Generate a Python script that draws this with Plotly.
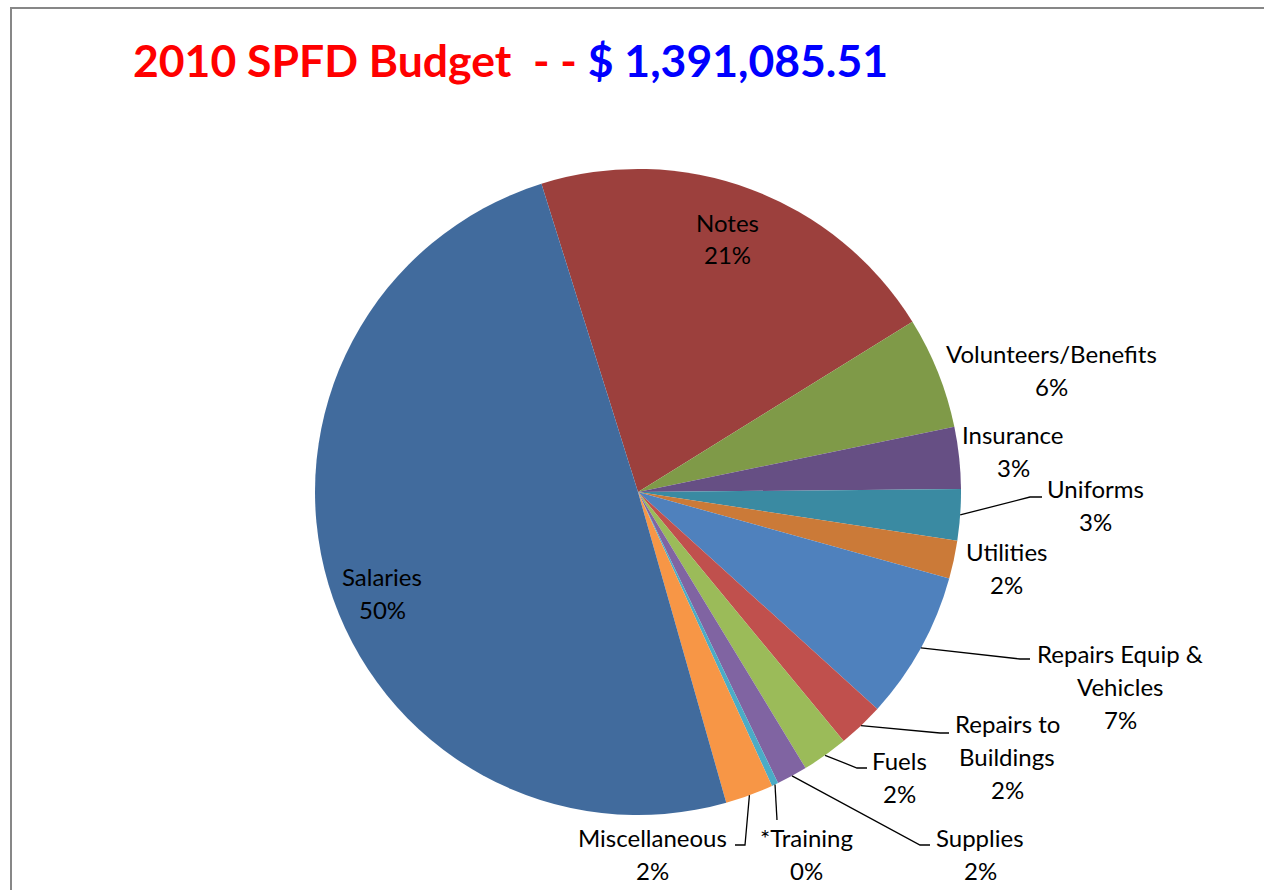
import math
import textwrap
import plotly.graph_objects as go

# ---------------- data ----------------
categories = ["Notes", "Volunteers/Benefits", "Insurance", "Uniforms", "Utilities",
              "Repairs Equip & Vehicles", "Repairs to Buildings", "Fuels", "Supplies",
              "*Training", "Miscellaneous", "Salaries"]
amounts = [292000, 78000, 43000, 35500, 26500, 103000, 32000, 32000, 21500, 4600, 33400, 689585.51]
colors = ["#9C403D", "#7F9A48", "#664F84", "#3A8AA2", "#CB7A38", "#4F81BD",
          "#C0504D", "#9BBB59", "#8064A2", "#4BACC6", "#F79646", "#416B9D"]
title_left = "2010 SPFD Budget&nbsp;&nbsp;- - "
title_right = "$ 1,391,085.51"

# ---------------- layout constants ----------------
W, H = 1264, 890
CX, CY, R = 638, 492, 323
ROTATION = -17.4
FONT = "Lato"
LABEL_SIZE = 24
LINE_GAP = 33

# label first-line centre (pixels)
label_pos = [(727, 222), (1051, 353), (1013, 434), (1095, 488), (1006, 551),
             (1120, 653), (1007, 723), (899, 760), (980, 837), (806, 837),
             (652, 837), (382, 576)]
# leader line bend / end points (pixels), None = no leader
leaders = [None, None, None, [(1030, 497), (1042, 497)], None,
           [(1020, 659), (1030, 659)], [(940, 733), (949, 733)],
           [(857, 768), (867, 768)], [(920, 845), (930, 845)],
           [(777, 820)], [(745, 845), (735, 845)], None]


def px(x):
    return x / W


def py(y):
    return 1 - y / H


fig = go.Figure(go.Pie(
    labels=categories, values=amounts, sort=False, direction="clockwise",
    rotation=ROTATION, marker=dict(colors=colors, line=dict(width=0)),
    textinfo="none", hoverinfo="label+percent+value", showlegend=False,
    domain=dict(x=[px(CX - R), px(CX + R)], y=[py(CY + R), py(CY - R)]),
))

total = sum(amounts)
annotations = []
shapes = []
cum = ROTATION
for name, val, pos, lead in zip(categories, amounts, label_pos, leaders):
    ang = val / total * 360
    mid = math.radians(cum + ang / 2)
    cum += ang
    pct = f"{val / total * 100:.0f}%"
    lines = textwrap.wrap(name, 15, break_long_words=False) + [pct]
    x0, y0 = pos
    for i, ln in enumerate(lines):
        annotations.append(dict(
            x=px(x0), y=py(y0 + i * LINE_GAP), xref="paper", yref="paper",
            text=ln, showarrow=False, xanchor="center", yanchor="middle",
            font=dict(family=FONT, size=LABEL_SIZE, color="#000000")))
    if lead:
        sx = CX + R * math.sin(mid)
        sy = CY - R * math.cos(mid)
        pts = [(sx, sy)] + lead
        path = "M " + " L ".join(f"{px(a)},{py(b)}" for a, b in pts)
        shapes.append(dict(type="path", xref="paper", yref="paper", path=path,
                           line=dict(color="#000000", width=1.3)))

annotations.append(dict(
    x=px(131), y=py(59), xref="paper", yref="paper", showarrow=False,
    xanchor="left", yanchor="middle",
    text=f"<b><span style='color:#FF0000'>{title_left}</span>"
         f"<span style='color:#0000FF'>{title_right}</span></b>",
    font=dict(family=FONT, size=44.5)))

# chart border (cropped frame)
shapes.append(dict(type="path", xref="paper", yref="paper",
                   path=f"M {px(11)},{py(H + 5)} L {px(11)},{py(8)} L {px(W + 5)},{py(8)}",
                   line=dict(color="#878787", width=2)))

fig.update_layout(
    width=W, height=H, margin=dict(l=0, r=0, t=0, b=0),
    paper_bgcolor="#FFFFFF", plot_bgcolor="#FFFFFF",
    annotations=annotations, shapes=shapes,
)

fig.write_html("out.html", config={"displayModeBar": False},
               post_script="document.body.style.margin='0';document.body.style.overflow='hidden';")
